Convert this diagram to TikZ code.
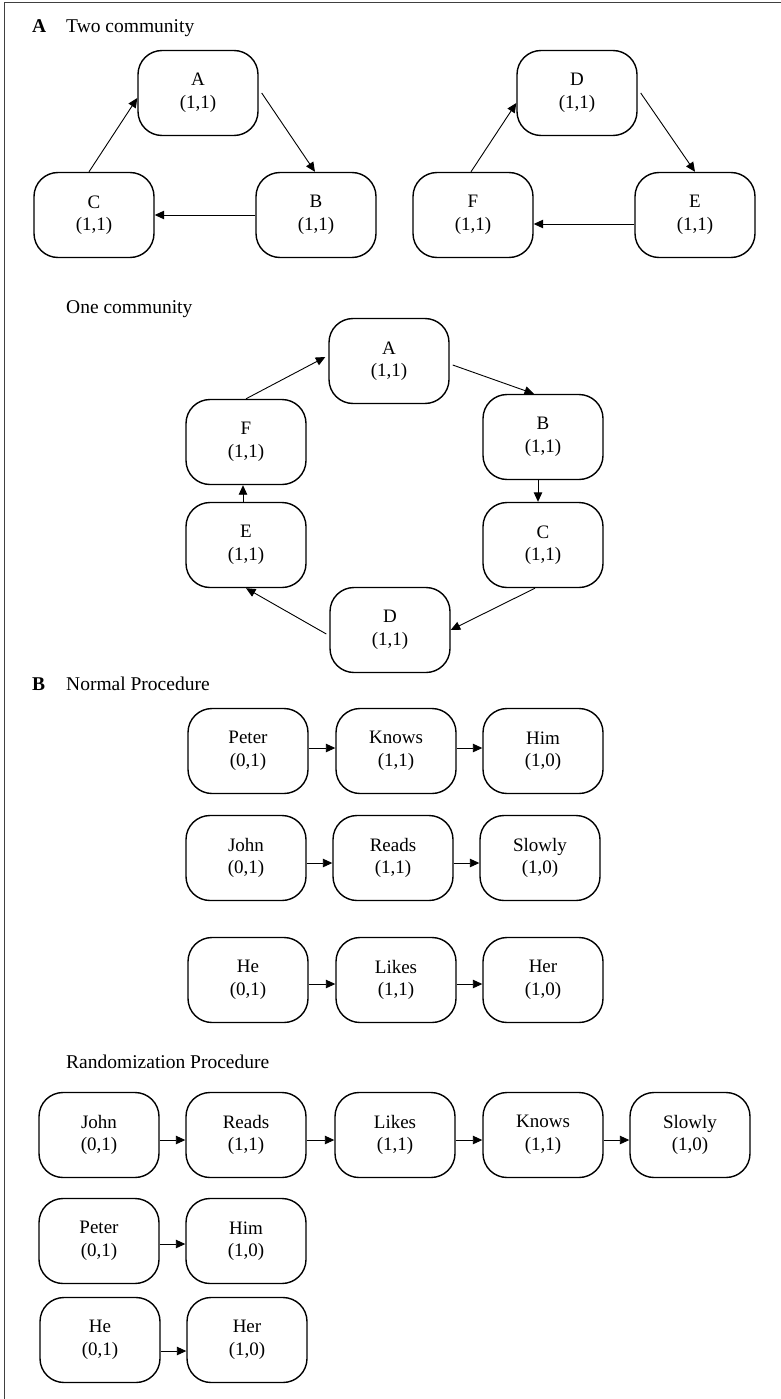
\documentclass[tikz,border=0pt]{standalone}
\usepackage{fontspec}
\setmainfont{Liberation Serif}
\usetikzlibrary{arrows.meta}
\begin{document}
\begin{tikzpicture}[x=1pt,y=-1pt,
  box/.style={draw, line width=1.4pt, rounded corners=24pt, minimum width=120pt, minimum height=85pt,
    inner sep=0pt, align=center, font=\fontsize{19}{22.5}\selectfont},
  arr/.style={line width=0.9pt, -{Triangle[length=9.5pt,width=8.5pt]}},
  lbl/.style={anchor=base west, inner sep=0pt, font=\fontsize{19.5}{22}\selectfont},
]
\useasboundingbox (0,0) rectangle (781,1399);
\draw[line width=1.2pt, black!75] (4.5,1399) -- (4.5,2.5) -- (781,2.5);

% Labels
\node[lbl] (labA) at (32,33) {\textbf{A}};
\node[lbl] (labTwo) at (66,33) {Two community};
\node[lbl] (labOne) at (66,313) {One community};
\node[lbl] (labB) at (32,690) {\textbf{B}};
\node[lbl] (labNorm) at (66,690) {Normal Procedure};
\node[lbl] (labRand) at (66,1068) {Randomization Procedure};

% Two community
\node[box] (A1) at (198,93) {A\\(1,1)};
\node[box] (B1) at (316,215) {B\\(1,1)};
\node[box] (C1) at (94,215) {C\\(1,1)};
\node[box] (D1) at (577,93) {D\\(1,1)};
\node[box] (E1) at (695,215) {E\\(1,1)};
\node[box] (F1) at (473,215) {F\\(1,1)};
\draw[arr] ([xshift=3pt]A1.east) -- ([xshift=-1pt]B1.north);
\draw[arr] ([xshift=-5pt]C1.north) -- ([yshift=-5pt]A1.west);
\draw[arr] (B1.west) -- (C1.east);
\draw[arr] ([xshift=3pt]D1.east) -- (E1.north);
\draw[arr] ([xshift=-2pt]F1.north) -- ([yshift=-10pt]D1.west);
\draw[arr] ([yshift=-9pt]E1.west) -- ([yshift=-9pt]F1.east);

% One community
\node[box] (A2) at (389,361) {A\\(1,1)};
\node[box] (B2) at (543,437) {B\\(1,1)};
\node[box] (C2) at (543,545) {C\\(1,1)};
\node[box] (D2) at (390,630) {D\\(1,1)};
\node[box] (E2) at (246,545) {E\\(1,1)};
\node[box] (F2) at (246,442) {F\\(1,1)};
\draw[arr] ([xshift=3pt,yshift=-4pt]A2.east) -- ([xshift=-9pt]B2.north);
\draw[arr] ([xshift=-5pt]B2.south) -- ([xshift=-5pt]C2.north);
\draw[arr] ([xshift=-8pt]C2.south) -- (D2.east);
\draw[arr] ([xshift=-3pt,yshift=-4pt]D2.west) -- (E2.south);
\draw[arr] ([xshift=-3pt]E2.north) -- ([xshift=-3pt]F2.south);
\draw[arr] (F2.north) -- ([xshift=-3pt,yshift=4pt]A2.west);

% Normal procedure
\node[box] (NP) at (248,751) {Peter\\(0,1)};
\node[box] (NK) at (396,751) {Knows\\(1,1)};
\node[box] (NH) at (543,751) {Him\\(1,0)};
\draw[arr] ([yshift=3pt]NP.east) -- ([yshift=3pt]NK.west);
\draw[arr] ([yshift=3pt]NK.east) -- ([yshift=3pt]NH.west);
\node[box] (NJ) at (246,858) {John\\(0,1)};
\node[box] (NR) at (393,858) {Reads\\(1,1)};
\node[box] (NS) at (540,858) {Slowly\\(1,0)};
\draw[arr] ([yshift=-5pt]NJ.east) -- ([yshift=-5pt]NR.west);
\draw[arr] ([yshift=-5pt]NR.east) -- ([yshift=-5pt]NS.west);
\node[box] (NE) at (248,980) {He\\(0,1)};
\node[box] (NL) at (396,980) {Likes\\(1,1)};
\node[box] (NR2) at (543,980) {Her\\(1,0)};
\draw[arr] ([yshift=-4pt]NE.east) -- ([yshift=-4pt]NL.west);
\draw[arr] ([yshift=-4pt]NL.east) -- ([yshift=-4pt]NR2.west);

% Randomization procedure
\node[box] (RJ) at (99,1135) {John\\(0,1)};
\node[box] (RR) at (246,1135) {Reads\\(1,1)};
\node[box] (RL) at (395,1135) {Likes\\(1,1)};
\node[box] (RK) at (543,1135) {Knows\\(1,1)};
\node[box] (RS) at (690,1135) {Slowly\\(1,0)};
\draw[arr] ([yshift=-5pt]RJ.east) -- ([yshift=-5pt]RR.west);
\draw[arr] ([yshift=-5pt]RR.east) -- ([yshift=-5pt]RL.west);
\draw[arr] ([yshift=-5pt]RL.east) -- ([yshift=-5pt]RK.west);
\draw[arr] ([yshift=-5pt]RK.east) -- ([yshift=-5pt]RS.west);
\node[box] (RP) at (99,1241) {Peter\\(0,1)};
\node[box] (RH) at (246,1241) {Him\\(1,0)};
\draw[arr] ([yshift=-3pt]RP.east) -- ([yshift=-3pt]RH.west);
\node[box] (RE) at (100,1340) {He\\(0,1)};
\node[box] (RHr) at (247,1340) {Her\\(1,0)};
\draw[arr] ([yshift=-11pt]RE.east) -- ([yshift=-11pt]RHr.west);
\end{tikzpicture}
\end{document}
